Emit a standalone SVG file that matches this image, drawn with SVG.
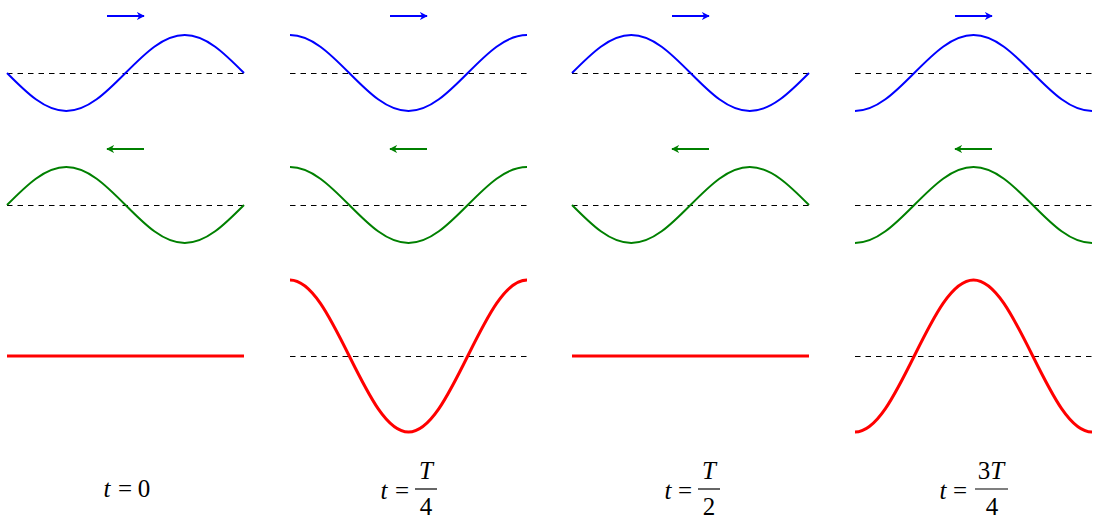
<svg xmlns="http://www.w3.org/2000/svg" width="1098" height="519" viewBox="0 0 1098 519">
<style>
.dash{stroke:#000;stroke-width:1;stroke-dasharray:5.5 5;fill:none}
.blue{stroke:#0000ff;stroke-width:2;fill:none}
.green{stroke:#008000;stroke-width:2;fill:none}
.red{stroke:#ff0000;stroke-width:3;fill:none}
.lbl{font-family:"Liberation Serif","DejaVu Serif",serif;font-size:25px;text-anchor:middle;fill:#000}
.it{font-style:italic}
.bar{stroke:#000;stroke-width:1.2}
</style>
<defs>
<marker id="ab" viewBox="0 0 10 10" refX="9" refY="5" markerWidth="8" markerHeight="8" markerUnits="userSpaceOnUse" orient="auto"><path d="M0,0 L10,5 L0,10 L3,5 Z" fill="#0000ff"/></marker>
<marker id="ag" viewBox="0 0 10 10" refX="9" refY="5" markerWidth="8" markerHeight="8" markerUnits="userSpaceOnUse" orient="auto"><path d="M0,0 L10,5 L0,10 L3,5 Z" fill="#008000"/></marker>
</defs>
<rect width="1098" height="519" fill="#fff"/>
<g id="axes">
<line class="dash" x1="7" y1="73.5" x2="244" y2="73.5"/>
<line class="dash" x1="290" y1="73.5" x2="527" y2="73.5"/>
<line class="dash" x1="572" y1="73.5" x2="809" y2="73.5"/>
<line class="dash" x1="855" y1="73.5" x2="1092" y2="73.5"/>
<line class="dash" x1="7" y1="205.5" x2="244" y2="205.5"/>
<line class="dash" x1="290" y1="205.5" x2="527" y2="205.5"/>
<line class="dash" x1="572" y1="205.5" x2="809" y2="205.5"/>
<line class="dash" x1="855" y1="205.5" x2="1092" y2="205.5"/>
<line class="dash" x1="290" y1="356.5" x2="527" y2="356.5"/>
<line class="dash" x1="855" y1="356.5" x2="1092" y2="356.5"/>
</g>
<g id="col1">
<path class="blue" d="M7,73 c19.34,19.49 37.81,38 59.25,38 c21.44,0 39.91,-18.51 59.25,-38 c19.34,-19.49 37.81,-38 59.25,-38 c21.44,0 39.91,18.51 59.25,38"/>
<path class="green" d="M7,205 c19.34,-19.49 37.81,-38 59.25,-38 c21.44,0 39.91,18.51 59.25,38 c19.34,19.49 37.81,38 59.25,38 c21.44,0 39.91,-18.51 59.25,-38"/>
<line class="red" x1="7" y1="356" x2="244" y2="356"/>
<text class="lbl" y="497"><tspan class="it" x="107">t</tspan><tspan x="125">=</tspan><tspan x="144">0</tspan></text>
</g>
<g id="col2">
<path class="blue" d="M290,35 c21.44,0 39.91,18.51 59.25,38 c19.34,19.49 37.81,38 59.25,38 c21.44,0 39.91,-18.51 59.25,-38 c19.34,-19.49 37.81,-38 59.25,-38"/>
<path class="green" d="M290,167 c21.44,0 39.91,18.51 59.25,38 c19.34,19.49 37.81,38 59.25,38 c21.44,0 39.91,-18.51 59.25,-38 c19.34,-19.49 37.81,-38 59.25,-38"/>
<path class="red" d="M290,280 c21.44,0 39.91,37.03 59.25,76 c19.34,38.97 37.81,76 59.25,76 c21.44,0 39.91,-37.03 59.25,-76 c19.34,-38.97 37.81,-76 59.25,-76"/>
<text class="lbl" y="499"><tspan class="it" x="384">t</tspan><tspan x="402">=</tspan></text>
<text class="lbl it" x="426" y="479">T</text>
<line class="bar" x1="415" y1="489" x2="437" y2="489"/>
<text class="lbl" x="426" y="515">4</text>
</g>
<g id="col3">
<path class="blue" d="M572,73 c19.34,-19.49 37.81,-38 59.25,-38 c21.44,0 39.91,18.51 59.25,38 c19.34,19.49 37.81,38 59.25,38 c21.44,0 39.91,-18.51 59.25,-38"/>
<path class="green" d="M572,205 c19.34,19.49 37.81,38 59.25,38 c21.44,0 39.91,-18.51 59.25,-38 c19.34,-19.49 37.81,-38 59.25,-38 c21.44,0 39.91,18.51 59.25,38"/>
<line class="red" x1="572" y1="356" x2="809" y2="356"/>
<text class="lbl" y="499"><tspan class="it" x="668">t</tspan><tspan x="685">=</tspan></text>
<text class="lbl it" x="709" y="479">T</text>
<line class="bar" x1="698" y1="489" x2="720" y2="489"/>
<text class="lbl" x="709" y="515">2</text>
</g>
<g id="col4">
<path class="blue" d="M855,111 c21.44,0 39.91,-18.51 59.25,-38 c19.34,-19.49 37.81,-38 59.25,-38 c21.44,0 39.91,18.51 59.25,38 c19.34,19.49 37.81,38 59.25,38"/>
<path class="green" d="M855,243 c21.44,0 39.91,-18.51 59.25,-38 c19.34,-19.49 37.81,-38 59.25,-38 c21.44,0 39.91,18.51 59.25,38 c19.34,19.49 37.81,38 59.25,38"/>
<path class="red" d="M855,432 c21.44,0 39.91,-37.03 59.25,-76 c19.34,-38.97 37.81,-76 59.25,-76 c21.44,0 39.91,37.03 59.25,76 c19.34,38.97 37.81,76 59.25,76"/>
<text class="lbl" y="499"><tspan class="it" x="943">t</tspan><tspan x="960">=</tspan></text>
<text class="lbl" x="991" y="479">3<tspan class="it">T</tspan></text>
<line class="bar" x1="975" y1="489" x2="1008" y2="489"/>
<text class="lbl" x="992" y="515">4</text>
</g>
<g id="connectors">
<line class="blue" stroke-width="1.3" x1="107" y1="16" x2="144" y2="16" marker-end="url(#ab)"/>
<line class="blue" stroke-width="1.3" x1="390" y1="16" x2="427" y2="16" marker-end="url(#ab)"/>
<line class="blue" stroke-width="1.3" x1="672" y1="16" x2="709" y2="16" marker-end="url(#ab)"/>
<line class="blue" stroke-width="1.3" x1="955" y1="16" x2="992" y2="16" marker-end="url(#ab)"/>
<line class="green" stroke-width="1.3" x1="144" y1="149" x2="107" y2="149" marker-end="url(#ag)"/>
<line class="green" stroke-width="1.3" x1="427" y1="149" x2="390" y2="149" marker-end="url(#ag)"/>
<line class="green" stroke-width="1.3" x1="709" y1="149" x2="672" y2="149" marker-end="url(#ag)"/>
<line class="green" stroke-width="1.3" x1="992" y1="149" x2="955" y2="149" marker-end="url(#ag)"/>
</g>
</svg>
